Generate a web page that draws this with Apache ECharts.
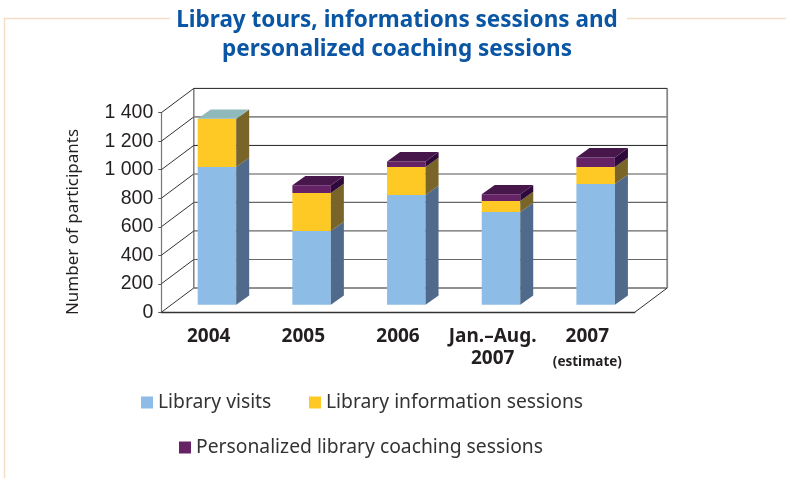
<!DOCTYPE html>
<html>
<head>
<meta charset="utf-8">
<style>html,body{margin:0;padding:0;background:#fff}#main{width:786px;height:478px}</style>
<script src="https://cdn.jsdelivr.net/npm/echarts@6/dist/echarts.min.js"></script>
</head>
<body>
<div id="main"></div>
<script>
var categories = ['2004', '2005', '2006', 'Jan.–Aug.\n2007', '2007\n{est|(estimate)}'];
var libraryVisits = [966, 517, 769, 650, 846];
var infoSessions = [338, 266, 197, 77, 120];
var coachingSessions = [0, 54, 39, 47, 67];
var yTicks = [0, 200, 400, 600, 800, 1000, 1200, 1400];

var names = ['Library visits', 'Library information sessions', 'Personalized library coaching sessions'];
var faces = [
    {front: '#8dbde6', side: '#4f6a8a', top: '#8dbde6'},
    {front: '#fec925', side: '#7a6528', top: '#fec925'},
    {front: '#652365', side: '#2e0a3c', top: '#47164a'}
];
// wall depth in px, and where the bars sit inside it
var wallDx = 32.5, wallDy = -24.3;
var barDx = 8.3, barDy = -7.6, barW = 38.5, sideDx = 13, sideDy = -9.3;

function tickStroke(v) {
    if (v === 1200 || v === 800) return {stroke: '#8c8c8c', lineWidth: 1.6};
    if (v === 1400 || v === 1000 || v === 0) return {stroke: '#222', lineWidth: 1};
    return {stroke: '#666', lineWidth: 1.2};
}

function renderWall(params, api) {
    var v = api.value(0);
    var y = api.coord([0, v])[1];
    var x0 = params.coordSys.x, x1 = x0 + params.coordSys.width;
    var kids = [
        {type: 'line', shape: {x1: x0, y1: y, x2: x0 + wallDx, y2: y + wallDy}, style: {stroke: '#333', lineWidth: 1}},
        {type: 'line', shape: {x1: x0 + wallDx, y1: y + wallDy, x2: x1 + wallDx, y2: y + wallDy}, style: tickStroke(v)}
    ];
    if (v === 0) {
        var top = api.coord([0, 1400])[1];
        kids.push({type: 'line', shape: {x1: x0 + wallDx, y1: y + wallDy, x2: x0 + wallDx, y2: top + wallDy}, style: {stroke: '#777', lineWidth: 1.4}});
        kids.push({type: 'line', shape: {x1: x1 + wallDx, y1: y + wallDy, x2: x1 + wallDx, y2: top + wallDy}, style: {stroke: '#888', lineWidth: 1.8}});
        kids.push({type: 'line', shape: {x1: x1, y1: y, x2: x1 + wallDx, y2: y + wallDy}, style: {stroke: '#333', lineWidth: 1}});
    }
    return {type: 'group', children: kids};
}

function makeBarRender(face, isLast) {
    return function (params, api) {
        var i = api.value(0), low = api.value(1), high = api.value(2);
        var pLow = api.coord([i, low]), pHigh = api.coord([i, high]);
        var x = pLow[0] + barDx - barW / 2, x2 = x + barW;
        var yb = pLow[1] + barDy, yt = pHigh[1] + barDy;
        var kids = [];
        if (high > low) {
            kids.push({type: 'rect', shape: {x: x, y: yt, width: barW, height: yb - yt}, style: {fill: face.front}});
            kids.push({type: 'polygon', shape: {points: [[x2, yb], [x2 + sideDx, yb + sideDy], [x2 + sideDx, yt + sideDy], [x2, yt]]}, style: {fill: face.side}});
        }
        if (isLast) {
            // no coaching sessions in this bar: the lid shows pale instead of purple
            kids.push({type: 'polygon', shape: {points: [[x, yt], [x2, yt], [x2 + sideDx, yt + sideDy], [x + sideDx, yt + sideDy]]},
                style: {fill: high > low ? face.top : '#8fb9ba'}});
        }
        return {type: 'group', children: kids};
    };
}

var stacks = [libraryVisits, infoSessions, coachingSessions];
var running = categories.map(function () { return 0; });
var barSeries = stacks.map(function (vals, s) {
    var rows = vals.map(function (v, i) {
        var row = [i, running[i], running[i] + v];
        running[i] += v;
        return row;
    });
    return {
        name: names[s],
        type: 'custom',
        renderItem: makeBarRender(faces[s], s === stacks.length - 1),
        itemStyle: {color: faces[s].front},
        encode: {x: 0, y: 2},
        data: rows,
        z: 3 + s,
        silent: true
    };
});

var legendText = {fontFamily: 'Noto Sans', fontSize: 19.3, color: '#333'};
function legendAt(i, left, top) {
    return {data: [names[i]], left: left, top: top, padding: 0, icon: 'rect', itemWidth: 12, itemHeight: 12, itemGap: 0, textStyle: legendText, selectedMode: false};
}

var chart = echarts.init(document.getElementById('main'), null, {renderer: 'canvas'});
chart.setOption({
    animation: false,
    backgroundColor: '#fff',
    title: {
        text: 'Libray tours, informations sessions and\npersonalized coaching sessions',
        left: 392, top: 1, textAlign: 'center',
        textStyle: {fontFamily: 'Noto Sans', fontWeight: 'bold', fontSize: 22.5, lineHeight: 29, color: '#0a56a5'}
    },
    grid: {left: 161.3, right: 151.3, top: 112.7, bottom: 165.7},
    legend: [legendAt(0, 141, 393), legendAt(1, 309, 393), legendAt(2, 179, 438)],
    xAxis: {
        type: 'category',
        data: categories,
        axisLine: {lineStyle: {color: '#333', width: 1.4}},
        axisTick: {length: 3, lineStyle: {color: '#555'}},
        axisLabel: {
            interval: 0, margin: 13, color: '#231f20', fontFamily: 'Noto Sans', fontWeight: 'bold', fontSize: 19, lineHeight: 22, align: 'center', verticalAlign: 'top',
            rich: {est: {fontFamily: 'Noto Sans', fontWeight: 'bold', fontSize: 13.5, color: '#231f20', padding: [8, 0, 0, 0]}}
        }
    },
    yAxis: {
        type: 'value', min: 0, max: 1400, interval: 200,
        name: 'Number of participants', nameLocation: 'middle', nameGap: 80, nameRotate: 90,
        nameTextStyle: {fontFamily: 'Noto Sans', fontSize: 17, color: '#231f20', padding: [0, 19, 0, 0]},
        axisLine: {show: true, lineStyle: {color: '#777', width: 1.2}},
        axisTick: {show: true, length: 3, lineStyle: {color: '#555'}},
        splitLine: {show: false},
        axisLabel: {
            margin: 8, color: '#231f20', fontFamily: 'Liberation Sans', fontSize: 19.5,
            formatter: function (v) { return v >= 1000 ? Math.floor(v / 1000) + ' ' + String(v % 1000).padStart(3, '0') : String(v); }
        }
    },
    graphic: [
        {type: 'polyline', silent: true, shape: {points: [[170, 18.5], [4.5, 18.5], [4.5, 478]]}, style: {fill: null, stroke: '#f3dfc6', lineWidth: 1.5}},
        {type: 'line', silent: true, shape: {x1: 627, y1: 18.5, x2: 786, y2: 18.5}, style: {stroke: '#f3dfc6', lineWidth: 1.5}}
    ],
    series: [{
        type: 'custom',
        renderItem: renderWall,
        encode: {y: 0},
        data: yTicks.map(function (v) { return [v]; }),
        z: 1,
        silent: true
    }].concat(barSeries)
});
</script>
</body>
</html>
